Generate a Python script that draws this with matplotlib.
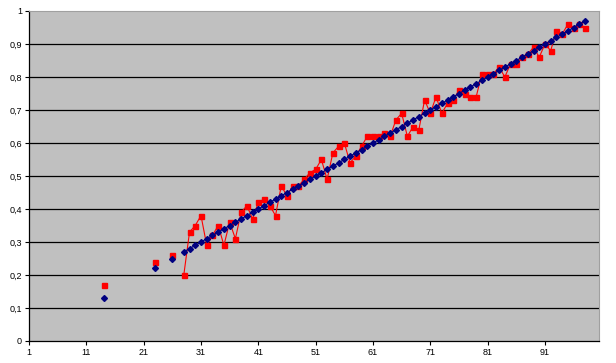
import numpy as np
import matplotlib
matplotlib.use("Agg")
import matplotlib.pyplot as plt

# categories (Excel row index) and values
cats = [14, 23, 26] + list(range(28, 99))

blue = [0.13, 0.22, 0.25] + [round((c - 1) / 100, 2) for c in range(28, 99)]

red = [0.17, 0.24, 0.26,
       0.20, 0.33, 0.35, 0.38, 0.29, 0.32, 0.35, 0.29, 0.36, 0.31,
       0.39, 0.41, 0.37, 0.42, 0.43, 0.41, 0.38, 0.47, 0.44, 0.47,
       0.47, 0.49, 0.51, 0.52, 0.55, 0.49, 0.57, 0.59, 0.60, 0.54,
       0.56, 0.59, 0.62, 0.62, 0.62, 0.63, 0.62, 0.67, 0.69, 0.62,
       0.65, 0.64, 0.73, 0.69, 0.74, 0.69, 0.72, 0.73, 0.76, 0.75,
       0.74, 0.74, 0.81, 0.81, 0.81, 0.83, 0.80, 0.84, 0.84, 0.86,
       0.87, 0.89, 0.86, 0.90, 0.88, 0.94, 0.93, 0.96, 0.95, 0.96,
       0.95]

x_ticks = list(range(1, 101, 10))
y_ticks = [i / 10 for i in range(11)]
y_labels = ["0"] + ["0," + str(i) for i in range(1, 10)] + ["1"]

# the first three points stand alone, the rest are joined
def split(xs, ys):
    return [([xs[i]], [ys[i]]) for i in range(3)] + [(xs[3:], ys[3:])]

plt.rcParams['font.family'] = ['Liberation Sans', 'DejaVu Sans']

fig = plt.figure(figsize=(6.16, 3.63), dpi=100)
ax = fig.add_axes([29 / 616, 22 / 363, 570 / 616, 330 / 363])
ax.set_facecolor('#C0C0C0')

for v in y_ticks[1:-1]:
    ax.axhline(v, color='black', lw=0.9, zorder=1)

for xs, ys in split(cats, red):
    ax.plot(xs, ys, color='#FF0000', lw=0.8, marker='s', ms=3.6,
            mec='#FF0000', mfc='#FF0000', zorder=3)
for xs, ys in split(cats, blue):
    ax.plot(xs, ys, color='#000080', lw=0.8, marker='D', ms=3.0,
            mec='#000080', mfc='#000080', zorder=4)

ax.set_xlim(1, 1 + 570 / 5.733)
ax.set_ylim(0, 1)
ax.set_xticks(x_ticks)
ax.set_xticklabels([str(t) for t in x_ticks])
ax.set_yticks(y_ticks)
ax.set_yticklabels(y_labels)
ax.tick_params(axis='both', labelsize=6.5, length=3, width=0.8, color='black',
               direction='out', pad=2)

for s in ['left', 'bottom']:
    ax.spines[s].set_color('black')
    ax.spines[s].set_linewidth(0.9)
for s in ['top', 'right']:
    ax.spines[s].set_color('#A0A0A0')
    ax.spines[s].set_linewidth(0.8)

fig.savefig('out.png', dpi=100)
